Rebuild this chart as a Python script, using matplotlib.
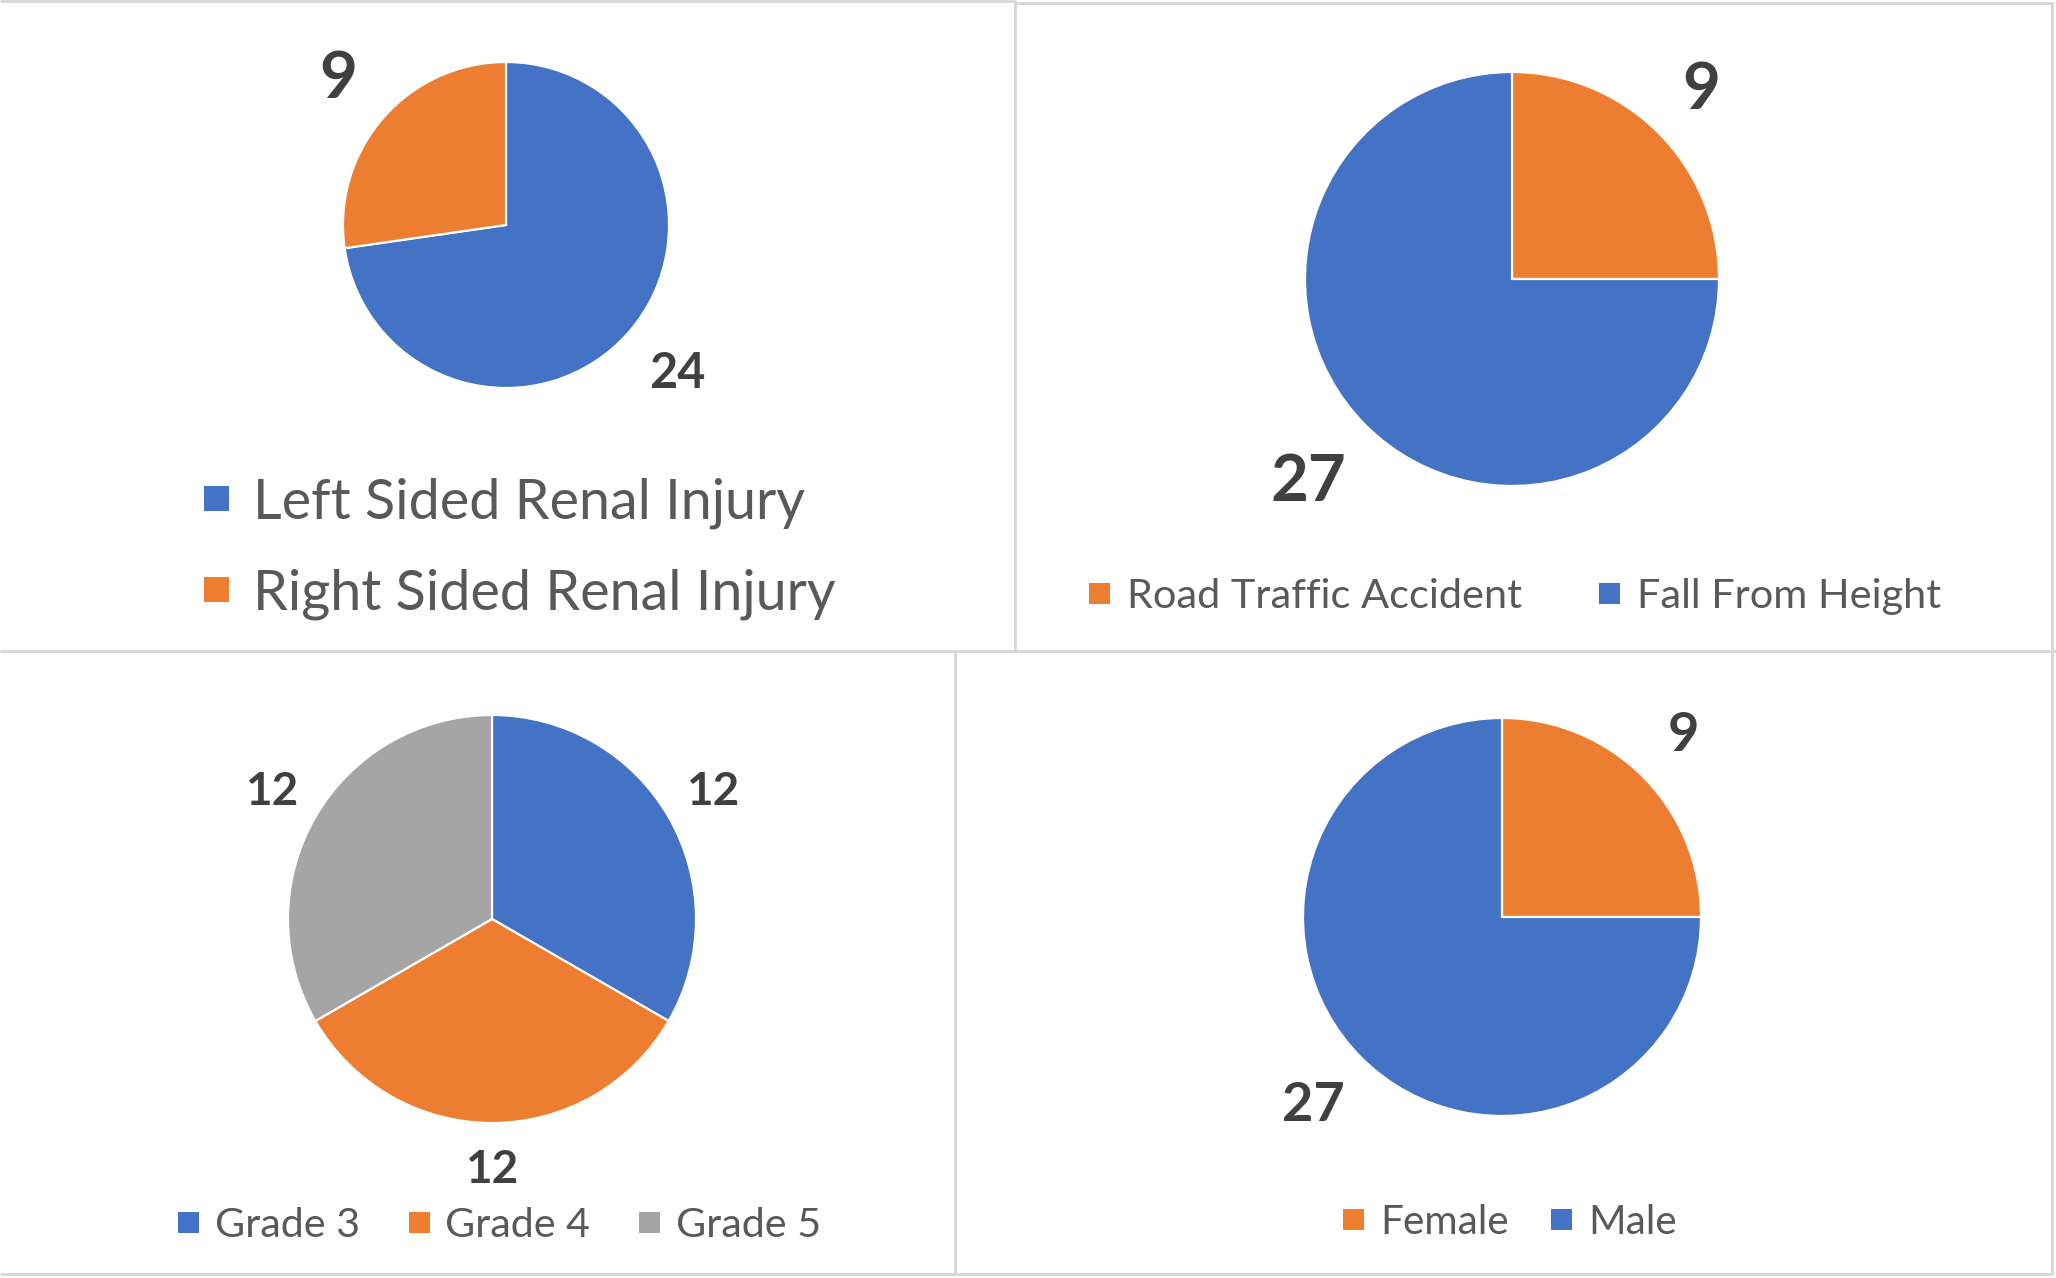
import numpy as np
import matplotlib
matplotlib.use("Agg")
import matplotlib.pyplot as plt
from matplotlib.patches import Rectangle
from matplotlib.lines import Line2D

# ---------------- data ----------------
side_labels = ["Left Sided Renal Injury", "Right Sided Renal Injury"]
side_values = [24, 9]

cause_labels = ["Road Traffic Accident", "Fall From Height"]
cause_values = [9, 27]

grade_labels = ["Grade 3", "Grade 4", "Grade 5"]
grade_values = [12, 12, 12]

sex_labels = ["Female", "Male"]
sex_values = [9, 27]

# ---------------- style ----------------
BLUE, ORANGE, GRAY = "#4472C4", "#ED7D31", "#A5A5A5"
LABEL_COLOR = "#404040"
LEGEND_COLOR = "#595959"
BORDER = "#D9D9D9"
FONT = ["Lato", "DejaVu Sans"]

W, H = 2056, 1278
DPI = 100
fig = plt.figure(figsize=(W / DPI, H / DPI), dpi=DPI)
fig.patch.set_facecolor("white")

# overlay axes in pixel coordinates (y downward)
ov = fig.add_axes([0, 0, 1, 1])
ov.set_xlim(0, W)
ov.set_ylim(H, 0)
ov.axis("off")
ov.set_zorder(5)

px2pt = 72 / DPI

# panel borders
lw = 3 * px2pt
segs = [
    ((0, 1014.5), (1, 1)),
    ((1016, 2053), (3, 3)),
    ((1014.5, 1014.5), (0, 651)),
    ((0, W), (651, 651)),
    ((954.5, 954.5), (651, 1274)),
    ((2052, 2052), (2, 1274)),
    ((0, 2053), (1274, 1274)),
]
for xs, ys in segs:
    ov.add_line(Line2D(xs, ys, color=BORDER, lw=lw, solid_capstyle="butt"))


def draw_pie(cx, cy, r, values, colors, label_dists, label_sizes):
    ax = fig.add_axes([(cx - r) / W, (H - cy - r) / H, 2 * r / W, 2 * r / H])
    total = sum(values)
    wedges, _, autotexts = ax.pie(
        values,
        colors=colors,
        startangle=90,
        counterclock=False,
        radius=1.0,
        autopct=lambda p, t=total: f"{round(p * t / 100):d}",
        pctdistance=1.3,
        wedgeprops=dict(edgecolor="white", linewidth=2.2 * px2pt),
        textprops=dict(family=FONT, fontweight="bold", color=LABEL_COLOR),
    )
    for w, t, s, d in zip(wedges, autotexts, label_sizes, label_dists):
        ang = np.deg2rad((w.theta1 + w.theta2) / 2)
        t.set_position((d * np.cos(ang), d * np.sin(ang)))
        t.set_fontsize(s)
        t.set_ha("center")
        t.set_va("center")
    ax.set_xlim(-1, 1)
    ax.set_ylim(-1, 1)
    ax.axis("off")
    return ax


draw_pie(506, 225, 163, side_values, [BLUE, ORANGE], [1.39, 1.36], [35, 47])
draw_pie(1512, 279, 207, cause_values, [ORANGE, BLUE], [1.29, 1.39], [47, 47])
draw_pie(492, 919, 204, grade_values, [BLUE, ORANGE, GRAY], [1.25, 1.23, 1.25], [33, 33, 33])
draw_pie(1502, 917, 199, sex_values, [ORANGE, BLUE], [1.29, 1.34], [39, 39])

renderer = fig.canvas.get_renderer()


def fit_size(text, target_w):
    t = ov.text(0, 0, text, fontsize=20, family=FONT)
    w = t.get_window_extent(renderer=renderer).width
    t.remove()
    return 20 * target_w / w


def legend_item(mx0, mx1, mcy, tx, label, color, fs):
    s = mx1 - mx0
    ov.add_patch(Rectangle((mx0, mcy - s / 2), s, s, facecolor=color,
                           edgecolor="none"))
    fs_px = fs / px2pt
    ov.text(tx, mcy + 0.36 * fs_px, label, fontsize=fs, family=FONT,
            color=LEGEND_COLOR, ha="left", va="baseline")


# legend 1 (vertical)
fs1 = fit_size(side_labels[1], 585)
legend_item(204, 229, 498, 253, side_labels[0], BLUE, fs1)
legend_item(204, 229, 589, 253, side_labels[1], ORANGE, fs1)

# legend 2
fs2 = fit_size(cause_labels[0], 395)
legend_item(1089, 1110, 593, 1127, cause_labels[0], ORANGE, fs2)
legend_item(1599, 1620, 593, 1637, cause_labels[1], BLUE, fs2)

# legend 3
fs3 = fit_size(grade_labels[0], 145)
legend_item(178, 199, 1222, 215, grade_labels[0], BLUE, fs3)
legend_item(409, 430, 1222, 445, grade_labels[1], ORANGE, fs3)
legend_item(639, 660, 1222, 676, grade_labels[2], GRAY, fs3)

# legend 4
fs4 = fit_size(sex_labels[0], 129)
legend_item(1343, 1364, 1219, 1380, sex_labels[0], ORANGE, fs4)
legend_item(1551, 1572, 1219, 1588, sex_labels[1], BLUE, fs4)

fig.savefig("out.png", dpi=DPI, facecolor="white")
